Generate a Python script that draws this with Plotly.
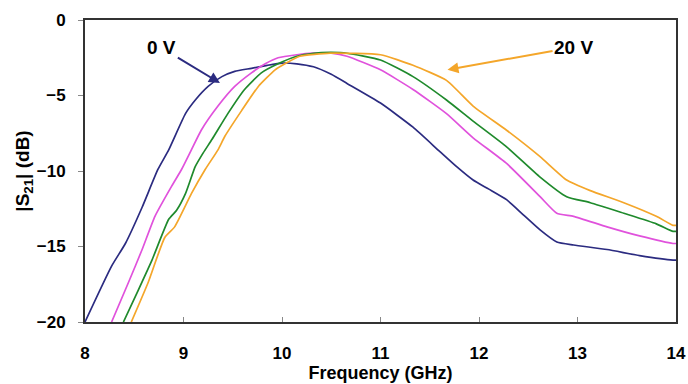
import plotly.graph_objects as go

# 0 V (navy)
f_0v = [8.0, 8.27, 8.41, 8.58, 8.74, 8.85, 9.02, 9.12, 9.25, 9.39, 9.52, 9.69, 9.85, 10.0, 10.15,
        10.32, 10.5, 10.66, 11.0, 11.33, 11.6, 11.77, 11.94, 12.1, 12.28, 12.45, 12.62, 12.79,
        12.96, 13.3, 13.63, 13.97, 14.0]
s_0v = [-20, -16.3, -14.8, -12.4, -9.9, -8.6, -6.2, -5.3, -4.4, -3.75, -3.4, -3.2, -3.0, -2.85, -2.9,
        -3.1, -3.6, -4.2, -5.5, -7.1, -8.7, -9.7, -10.6, -11.2, -11.9, -12.9, -13.9, -14.7,
        -14.9, -15.2, -15.6, -15.9, -15.9]

# intermediate bias (magenta)
f_v1 = [8.27, 8.44, 8.58, 8.71, 8.88, 8.98, 9.08, 9.18, 9.35, 9.52, 9.69, 9.83, 9.96, 10.15, 10.32,
        10.5, 10.66, 11.0, 11.33, 11.67, 11.94, 12.28, 12.62, 12.79, 12.96, 13.3, 13.63, 13.97, 14.0]
s_v1 = [-20, -17.4, -15.2, -13.0, -11.0, -9.9, -8.6, -7.3, -5.7, -4.4, -3.5, -2.9, -2.5, -2.3, -2.2,
        -2.2, -2.4, -3.3, -4.6, -6.2, -7.8, -9.5, -11.7, -12.8, -13.0, -13.7, -14.3, -14.8, -14.8]

# intermediate bias (green)
f_v2 = [8.39, 8.54, 8.68, 8.85, 8.93, 9.02, 9.12, 9.2, 9.29, 9.45, 9.62, 9.79, 9.96, 10.15, 10.32,
        10.5, 10.66, 11.0, 11.33, 11.67, 11.94, 12.28, 12.62, 12.89, 13.13, 13.47, 13.8, 13.97, 14.0]
s_v2 = [-20, -17.9, -15.9, -13.2, -12.6, -11.5, -9.7, -8.8, -7.9, -6.2, -4.6, -3.5, -2.9, -2.4, -2.2,
        -2.15, -2.2, -2.65, -3.75, -5.3, -6.7, -8.4, -10.4, -11.7, -12.1, -12.8, -13.5, -14.0, -14.0]

# 20 V (orange)
f_20v = [8.47, 8.64, 8.81, 8.91, 9.08, 9.22, 9.35, 9.42, 9.59, 9.76, 9.93, 10.03, 10.18, 10.49,
         11.0, 11.33, 11.67, 11.94, 12.28, 12.62, 12.89, 13.13, 13.47, 13.8, 13.97, 14.0]
s_20v = [-20, -17.4, -14.4, -13.7, -11.5, -9.9, -8.6, -7.7, -6.0, -4.4, -3.3, -2.9, -2.4, -2.2,
         -2.3, -3.0, -4.0, -5.7, -7.3, -9.05, -10.6, -11.3, -12.1, -13.0, -13.6, -13.6]

x_ticks = [8, 9, 10, 11, 12, 13, 14]
y_ticks = [0, -5, -10, -15, -20]

series = [
    (f_0v, s_0v, "#2b2b80"),
    (f_v1, s_v1, "#e052dc"),
    (f_v2, s_v2, "#1f8a2c"),
    (f_20v, s_20v, "#f4a62a"),
]

fig = go.Figure()
for fx, sy, col in series:
    fig.add_trace(go.Scatter(x=fx, y=sy, mode="lines",
                             line=dict(color=col, width=1.7, shape="spline", smoothing=0.5),
                             showlegend=False, hoverinfo="skip"))

font_fam = "Liberation Sans, Arial, sans-serif"

fig.add_annotation(x=9.37, y=-4.17, ax=8.78, ay=-1.85, axref="x", ayref="y",
                   text="0 V", showarrow=True, arrowhead=2, arrowsize=1.1, arrowwidth=2,
                   arrowcolor="#2b2b80", font=dict(family=font_fam, size=19, color="black", weight="bold"))
fig.add_annotation(x=11.68, y=-3.3, ax=12.96, ay=-1.8, axref="x", ayref="y",
                   text="20 V", showarrow=True, arrowhead=2, arrowsize=1.1, arrowwidth=2,
                   arrowcolor="#f4a62a", font=dict(family=font_fam, size=19, color="black", weight="bold"))

axis_common = dict(showline=True, linecolor="#333333", linewidth=2, mirror=True,
                   showgrid=False, zeroline=False, ticklen=5, tickcolor="#888888",
                   automargin=False,
                   tickfont=dict(family=font_fam, size=17, color="black", weight="bold"))

fig.update_xaxes(range=[8, 14], tickvals=x_ticks, ticks="inside", ticklabelstandoff=15,
                 title=dict(text="Frequency (GHz)", standoff=2,
                            font=dict(family=font_fam, size=18, color="black", weight="bold")),
                 **axis_common)
fig.update_yaxes(range=[-20, 0], tickvals=y_ticks, ticks="outside", ticklabelstandoff=9,
                 title=dict(text="|S<sub>21</sub>| (dB)", standoff=2,
                            font=dict(family=font_fam, size=19, color="black", weight="bold")),
                 **axis_common)

fig.update_layout(width=688, height=384, margin=dict(l=85, r=12, t=20, b=62),
                  plot_bgcolor="white", paper_bgcolor="white")

fig.write_html("out.html")
